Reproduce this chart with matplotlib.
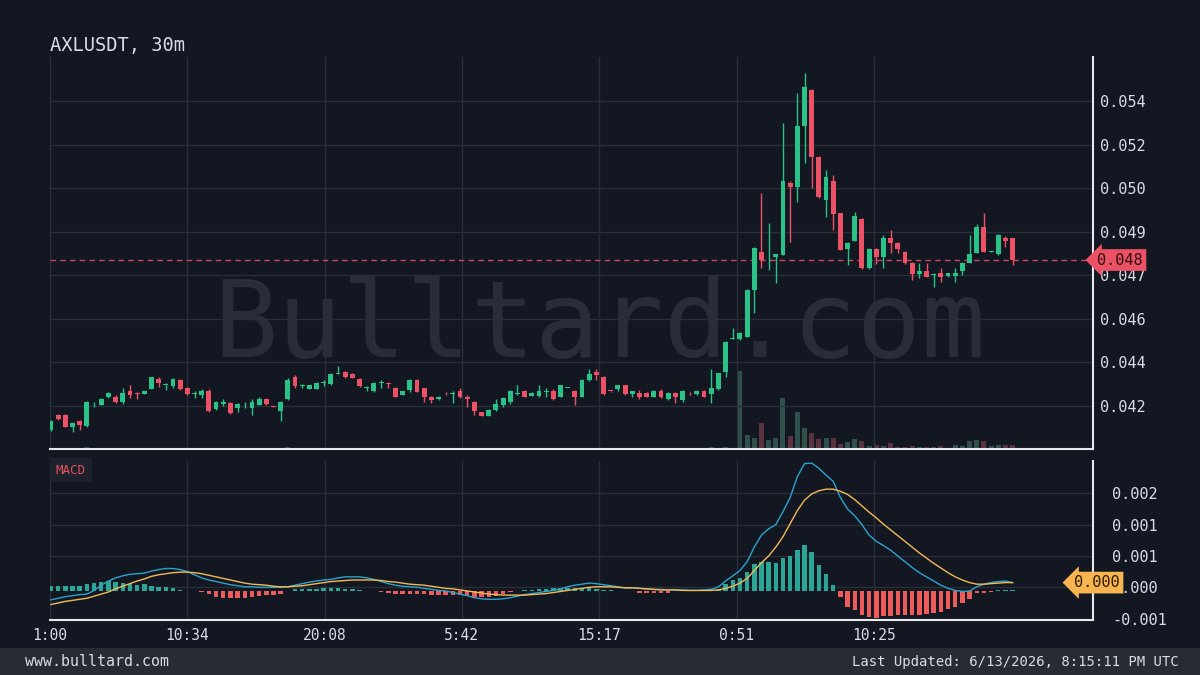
import numpy as np
import matplotlib
matplotlib.use('Agg')
import matplotlib.pyplot as plt
import matplotlib.transforms as mtransforms
from matplotlib.patches import Rectangle

plt.rcParams['font.family'] = 'DejaVu Sans Mono'

# 30m candles, AXLUSDT
opens = [
    0.04152, 0.04206, 0.04206, 0.04164, 0.04185, 0.04165, 0.04246, 0.04245, 0.04274, 0.04274,
    0.04253, 0.04295, 0.04287, 0.04284, 0.04302, 0.04338, 0.04316, 0.04313, 0.04335, 0.04305,
    0.04284, 0.04280, 0.04295, 0.04230, 0.04246, 0.04252, 0.04231, 0.04246, 0.04231, 0.04244,
    0.04266, 0.04238, 0.04223, 0.04264, 0.04345, 0.04313, 0.04304, 0.04304, 0.04324, 0.04320,
    0.04358, 0.04366, 0.04358, 0.04338, 0.04305, 0.04295, 0.04323, 0.04326, 0.04306, 0.04282,
    0.04299, 0.04335, 0.04305, 0.04274, 0.04264, 0.04287, 0.04284, 0.04295, 0.04274, 0.04255,
    0.04217, 0.04205, 0.04225, 0.04244, 0.04253, 0.04285, 0.04295, 0.04277, 0.04277, 0.04292,
    0.04295, 0.04274, 0.04306, 0.04295, 0.04274, 0.04337, 0.04364, 0.04345, 0.04295, 0.04304,
    0.04316, 0.04283, 0.04289, 0.04289, 0.04274, 0.04295, 0.04264, 0.04287, 0.04262, 0.04287,
    0.04283, 0.04295, 0.04283, 0.04304, 0.04366, 0.04487, 0.04485, 0.04494, 0.04666, 0.04807,
    0.04778, 0.04786, 0.04794, 0.05060, 0.05045, 0.05268, 0.05400, 0.05155, 0.04996, 0.05067,
    0.04948, 0.04815, 0.04847, 0.04928, 0.04746, 0.04818, 0.04786, 0.04858, 0.04840, 0.04807,
    0.04766, 0.04725, 0.04736, 0.04720, 0.04727, 0.04717, 0.04717, 0.04736, 0.04766, 0.04803,
    0.04898, 0.04806, 0.04797, 0.04858, 0.04858]
highs = [
    0.04189, 0.04209, 0.04209, 0.04182, 0.04189, 0.04257, 0.04256, 0.04269, 0.04293, 0.04280,
    0.04305, 0.04317, 0.04293, 0.04296, 0.04348, 0.04348, 0.04323, 0.04342, 0.04338, 0.04311,
    0.04296, 0.04301, 0.04301, 0.04260, 0.04264, 0.04255, 0.04250, 0.04256, 0.04264, 0.04272,
    0.04268, 0.04240, 0.04260, 0.04342, 0.04354, 0.04321, 0.04317, 0.04328, 0.04335, 0.04360,
    0.04387, 0.04368, 0.04360, 0.04342, 0.04313, 0.04329, 0.04335, 0.04329, 0.04309, 0.04296,
    0.04338, 0.04338, 0.04307, 0.04277, 0.04277, 0.04291, 0.04296, 0.04305, 0.04280, 0.04257,
    0.04219, 0.04228, 0.04264, 0.04272, 0.04299, 0.04317, 0.04299, 0.04290, 0.04317, 0.04305,
    0.04301, 0.04318, 0.04307, 0.04299, 0.04339, 0.04375, 0.04375, 0.04351, 0.04296, 0.04318,
    0.04318, 0.04296, 0.04299, 0.04293, 0.04299, 0.04301, 0.04290, 0.04290, 0.04299, 0.04291,
    0.04299, 0.04299, 0.04375, 0.04362, 0.04480, 0.04525, 0.04510, 0.04668, 0.04825, 0.05021,
    0.04911, 0.04798, 0.05278, 0.05067, 0.05388, 0.05462, 0.05405, 0.05159, 0.05107, 0.05088,
    0.04950, 0.04843, 0.04953, 0.04930, 0.04820, 0.04820, 0.04868, 0.04886, 0.04843, 0.04810,
    0.04768, 0.04764, 0.04764, 0.04727, 0.04746, 0.04730, 0.04746, 0.04770, 0.04868, 0.04908,
    0.04948, 0.04810, 0.04870, 0.04864, 0.04858]
lows = [
    0.04148, 0.04189, 0.04162, 0.04146, 0.04152, 0.04164, 0.04238, 0.04242, 0.04268, 0.04250,
    0.04246, 0.04268, 0.04264, 0.04283, 0.04301, 0.04309, 0.04299, 0.04307, 0.04299, 0.04280,
    0.04268, 0.04268, 0.04219, 0.04225, 0.04241, 0.04209, 0.04219, 0.04231, 0.04207, 0.04242,
    0.04244, 0.04235, 0.04185, 0.04262, 0.04305, 0.04305, 0.04302, 0.04301, 0.04313, 0.04317,
    0.04356, 0.04343, 0.04343, 0.04311, 0.04296, 0.04293, 0.04305, 0.04305, 0.04272, 0.04280,
    0.04293, 0.04290, 0.04255, 0.04252, 0.04262, 0.04282, 0.04252, 0.04268, 0.04238, 0.04207,
    0.04202, 0.04203, 0.04223, 0.04238, 0.04247, 0.04282, 0.04272, 0.04275, 0.04274, 0.04274,
    0.04262, 0.04272, 0.04305, 0.04244, 0.04272, 0.04333, 0.04335, 0.04280, 0.04293, 0.04295,
    0.04280, 0.04274, 0.04265, 0.04272, 0.04272, 0.04268, 0.04262, 0.04252, 0.04255, 0.04282,
    0.04282, 0.04272, 0.04252, 0.04300, 0.04348, 0.04485, 0.04483, 0.04494, 0.04580, 0.04746,
    0.04739, 0.04690, 0.04794, 0.04843, 0.04990, 0.05131, 0.05039, 0.05002, 0.04935, 0.04886,
    0.04811, 0.04758, 0.04845, 0.04743, 0.04743, 0.04761, 0.04746, 0.04801, 0.04801, 0.04762,
    0.04703, 0.04709, 0.04715, 0.04678, 0.04696, 0.04715, 0.04696, 0.04721, 0.04764, 0.04800,
    0.04804, 0.04804, 0.04795, 0.04825, 0.04758]
closes = [
    0.04185, 0.04191, 0.04164, 0.04176, 0.04170, 0.04255, 0.04247, 0.04267, 0.04287, 0.04253,
    0.04287, 0.04280, 0.04285, 0.04295, 0.04345, 0.04323, 0.04321, 0.04338, 0.04302, 0.04283,
    0.04288, 0.04295, 0.04223, 0.04253, 0.04256, 0.04213, 0.04247, 0.04248, 0.04256, 0.04266,
    0.04246, 0.04237, 0.04255, 0.04335, 0.04315, 0.04315, 0.04316, 0.04326, 0.04327, 0.04356,
    0.04361, 0.04345, 0.04344, 0.04315, 0.04307, 0.04326, 0.04327, 0.04321, 0.04274, 0.04295,
    0.04335, 0.04293, 0.04274, 0.04262, 0.04274, 0.04286, 0.04288, 0.04274, 0.04264, 0.04223,
    0.04205, 0.04225, 0.04247, 0.04269, 0.04295, 0.04288, 0.04274, 0.04289, 0.04295, 0.04293,
    0.04264, 0.04316, 0.04306, 0.04274, 0.04337, 0.04358, 0.04354, 0.04283, 0.04294, 0.04316,
    0.04283, 0.04295, 0.04274, 0.04274, 0.04295, 0.04274, 0.04287, 0.04274, 0.04295, 0.04286,
    0.04295, 0.04274, 0.04305, 0.04360, 0.04476, 0.04489, 0.04507, 0.04666, 0.04819, 0.04776,
    0.04780, 0.04798, 0.05067, 0.05045, 0.05269, 0.05410, 0.05155, 0.05006, 0.05080, 0.04945,
    0.04813, 0.04840, 0.04939, 0.04746, 0.04818, 0.04786, 0.04858, 0.04837, 0.04815, 0.04764,
    0.04725, 0.04736, 0.04715, 0.04722, 0.04715, 0.04727, 0.04727, 0.04766, 0.04797, 0.04898,
    0.04804, 0.04808, 0.04867, 0.04847, 0.04776]
volume = [
    12, 8, 10, 9, 7, 20, 6, 9, 8, 7,
    10, 9, 6, 5, 14, 8, 5, 9, 8, 7,
    5, 6, 15, 8, 6, 10, 7, 5, 9, 8,
    7, 4, 12, 18, 10, 6, 5, 7, 5, 9,
    8, 7, 6, 8, 5, 8, 5, 6, 9, 5,
    9, 8, 8, 6, 5, 4, 7, 7, 6, 10,
    7, 8, 9, 11, 12, 7, 6, 5, 7, 5,
    7, 8, 4, 7, 12, 12, 10, 14, 4, 7,
    9, 5, 6, 5, 5, 6, 5, 7, 8, 4,
    5, 6, 17, 10, 23, 10, 780, 140, 113, 257,
    90, 107, 507, 130, 367, 207, 163, 100, 113, 107,
    50, 67, 100, 80, 30, 40, 30, 57, 20, 20,
    30, 20, 20, 20, 33, 15, 37, 30, 77, 90,
    80, 30, 40, 37, 37]

# MACD panel
macd = [
    -0.00016, -0.00013, -0.00010, -0.00008, -0.00006, -0.00005, 0.00002, 0.00012, 0.00020, 0.00026,
    0.00030, 0.00033, 0.00034, 0.00035, 0.00039, 0.00042, 0.00044, 0.00044, 0.00042, 0.00038,
    0.00032, 0.00026, 0.00022, 0.00019, 0.00016, 0.00013, 0.00011, 0.00009, 0.00009, 0.00008,
    0.00008, 0.00008, 0.00008, 0.00009, 0.00012, 0.00015, 0.00018, 0.00020, 0.00022, 0.00023,
    0.00026, 0.00028, 0.00028, 0.00028, 0.00026, 0.00023, 0.00019, 0.00015, 0.00012, 0.00010,
    0.00009, 0.00008, 0.00006, 0.00004, 0.00002, 0.00001, -0.00002, -0.00005, -0.00008, -0.00012,
    -0.00014, -0.00015, -0.00015, -0.00014, -0.00012, -0.00009, -0.00006, -0.00004, -0.00002, 0.00000,
    0.00002, 0.00005, 0.00009, 0.00012, 0.00014, 0.00016, 0.00015, 0.00013, 0.00011, 0.00009,
    0.00007, 0.00007, 0.00006, 0.00005, 0.00004, 0.00004, 0.00003, 0.00003, 0.00003, 0.00002,
    0.00002, 0.00003, 0.00004, 0.00009, 0.00020, 0.00030, 0.00040, 0.00057, 0.00085, 0.00108,
    0.00120, 0.00128, 0.00153, 0.00180, 0.00220, 0.00245, 0.00246, 0.00236, 0.00223, 0.00211,
    0.00180, 0.00158, 0.00145, 0.00128, 0.00108, 0.00096, 0.00088, 0.00079, 0.00068, 0.00057,
    0.00046, 0.00036, 0.00028, 0.00020, 0.00012, 0.00006, 0.00002, 0.00000, 0.00001, 0.00009,
    0.00014, 0.00017, 0.00019, 0.00020, 0.00017]
signal = [
    -0.00025, -0.00022, -0.00019, -0.00017, -0.00015, -0.00013, -0.00009, -0.00005, -0.00001, 0.00005,
    0.00010, 0.00015, 0.00020, 0.00024, 0.00029, 0.00032, 0.00034, 0.00036, 0.00037, 0.00037,
    0.00036, 0.00034, 0.00031, 0.00028, 0.00025, 0.00022, 0.00019, 0.00016, 0.00014, 0.00013,
    0.00012, 0.00010, 0.00009, 0.00009, 0.00010, 0.00011, 0.00013, 0.00015, 0.00017, 0.00019,
    0.00020, 0.00021, 0.00022, 0.00022, 0.00022, 0.00022, 0.00021, 0.00019, 0.00018, 0.00016,
    0.00014, 0.00013, 0.00012, 0.00010, 0.00008, 0.00006, 0.00005, 0.00003, 0.00001, -0.00001,
    -0.00003, -0.00005, -0.00006, -0.00007, -0.00007, -0.00007, -0.00007, -0.00006, -0.00005, -0.00004,
    -0.00002, 0.00000, 0.00002, 0.00004, 0.00006, 0.00008, 0.00009, 0.00009, 0.00009, 0.00008,
    0.00007, 0.00007, 0.00006, 0.00005, 0.00004, 0.00003, 0.00003, 0.00003, 0.00002, 0.00002,
    0.00002, 0.00002, 0.00002, 0.00003, 0.00006, 0.00010, 0.00016, 0.00025, 0.00040, 0.00055,
    0.00068, 0.00085, 0.00105, 0.00130, 0.00155, 0.00175, 0.00187, 0.00193, 0.00196, 0.00196,
    0.00192, 0.00186, 0.00176, 0.00164, 0.00152, 0.00141, 0.00129, 0.00118, 0.00107, 0.00096,
    0.00085, 0.00074, 0.00064, 0.00054, 0.00045, 0.00036, 0.00028, 0.00022, 0.00017, 0.00014,
    0.00014, 0.00015, 0.00016, 0.00017, 0.00017]
hist = [
    0.00010, 0.00010, 0.00010, 0.00010, 0.00011, 0.00014, 0.00017, 0.00019, 0.00020, 0.00018,
    0.00016, 0.00014, 0.00013, 0.00014, 0.00011, 0.00009, 0.00008, 0.00006, 0.00003, 0.00001,
    0.00000, -0.00001, -0.00005, -0.00010, -0.00012, -0.00013, -0.00013, -0.00012, -0.00010, -0.00008,
    -0.00007, -0.00007, -0.00005, 0.00000, 0.00004, 0.00004, 0.00005, 0.00005, 0.00006, 0.00006,
    0.00006, 0.00005, 0.00005, 0.00003, 0.00001, 0.00000, -0.00001, -0.00002, -0.00004, -0.00005,
    -0.00004, -0.00005, -0.00005, -0.00007, -0.00007, -0.00007, -0.00007, -0.00007, -0.00008, -0.00010,
    -0.00010, -0.00010, -0.00008, -0.00005, -0.00001, 0.00000, 0.00003, 0.00003, 0.00004, 0.00004,
    0.00006, 0.00006, 0.00007, 0.00006, 0.00006, 0.00006, 0.00005, 0.00003, 0.00002, 0.00001,
    0.00000, 0.00000, -0.00002, -0.00002, -0.00002, -0.00002, -0.00002, 0.00000, 0.00000, 0.00000,
    0.00000, 0.00000, 0.00001, 0.00005, 0.00015, 0.00022, 0.00026, 0.00037, 0.00053, 0.00056,
    0.00056, 0.00054, 0.00064, 0.00068, 0.00080, 0.00090, 0.00076, 0.00050, 0.00034, 0.00012,
    -0.00010, -0.00029, -0.00035, -0.00045, -0.00048, -0.00050, -0.00047, -0.00047, -0.00046, -0.00046,
    -0.00046, -0.00045, -0.00043, -0.00042, -0.00039, -0.00034, -0.00029, -0.00023, -0.00015, -0.00003,
    -0.00002, -0.00001, 0.00002, 0.00002, 0.00002]

price_ticks = [0.0424, 0.0440, 0.0456, 0.0472, 0.0488, 0.0504, 0.0520, 0.0536]
price_labels = ['0.042', '0.044', '0.046', '0.047', '0.049', '0.050', '0.052', '0.054']
macd_ticks = [-0.00052, 0.00008, 0.00068, 0.00128, 0.00188]
macd_labels = ['-0.001', '0.000', '0.001', '0.001', '0.002']
time_labels = ['1:00', '10:34', '20:08', '5:42', '15:17', '0:51', '10:25']
tick_step = 574 / 30  # 9h34m in 30m candles

BG = '#131722'
GRID = '#2a2e39'
TXT = '#d9dce3'
AXIS = '#e6e8ee'
GREEN = '#2bc287'
RED = '#ec5166'
VOL_UP = '#30504c'
VOL_DN = '#5a3240'
H_UP = '#2aa596'
H_DN = '#ef5a5a'
BLUE = '#2ba3cc'
ORANGE = '#f3b955'

o = np.array(opens)
h = np.array(highs)
l = np.array(lows)
c = np.array(closes)
x = np.arange(len(c))
up = c >= o
xlim = (-0.14, 145.2)
tick_pos = [-0.14 + tick_step * i for i in range(len(time_labels))]

fig = plt.figure(figsize=(12, 6.75), dpi=100, facecolor=BG)
rect_p = [50 / 1200, 226 / 675, 1043 / 1200, 392 / 675]
rect_m = [50 / 1200, 55.5 / 675, 1043 / 1200, 158.5 / 675]

# volume behind the candles
ax_v = fig.add_axes(rect_p)
ax_v.set_facecolor(BG)
ax_v.bar(x, volume, width=0.7, color=np.where(up, VOL_UP, VOL_DN), zorder=2)
ax_v.set_ylim(0, max(volume) * 392 / 78)
ax_v.set_xlim(*xlim)
ax_v.set_xticks([])
ax_v.set_yticks([])
for s in ax_v.spines.values():
    s.set_visible(False)
ax_v.text(0.5, 0.515, 'Bulltard.com', transform=fig.transFigure, ha='center', va='center',
          fontsize=77, color='#292d37', zorder=1)

ax = fig.add_axes(rect_p)
ax.set_zorder(1)
ax.set_facecolor('none')
cols = np.where(up, GREEN, RED)
ax.vlines(x, l, h, colors=cols, linewidth=1.0, zorder=3)
ax.bar(x, np.maximum(np.abs(c - o), 3e-5), bottom=np.minimum(o, c), width=0.68,
       color=cols, zorder=4)
ax.axhline(c[-1], color=RED, lw=1, ls=(0, (4, 3)), alpha=0.85, zorder=2)
ax.set_xlim(*xlim)
ax.set_ylim(0.040821, 0.055215)
ax.yaxis.tick_right()
ax.set_yticks(price_ticks)
ax.set_yticklabels(price_labels)
ax.set_xticks(tick_pos)
ax.tick_params(axis='y', length=0, pad=5, labelsize=11, colors=TXT)
ax.tick_params(axis='x', length=0, labelbottom=False)
ax.grid(True, color=GRID, lw=1)
ax.set_axisbelow(True)
for side in ['top', 'left']:
    ax.spines[side].set_visible(False)
for side in ['right', 'bottom']:
    ax.spines[side].set_color(AXIS)
    ax.spines[side].set_linewidth(1.5)
tr = mtransforms.blended_transform_factory(ax.transAxes, ax.transData)
ax.text(1.026, c[-1], f'{c[-1]:.3f}', transform=tr, ha='center', va='center', fontsize=11,
        color='#2a0b12', zorder=6, clip_on=False,
        bbox=dict(boxstyle='larrow,pad=0.22', fc=RED, ec='none'))

# MACD pane
axm = fig.add_axes(rect_m, facecolor=BG)
axm.bar(x, hist, width=0.62, color=np.where(np.array(hist) >= 0, H_UP, H_DN), zorder=2)
axm.plot(x, macd, color=BLUE, lw=1.0, zorder=3)
axm.plot(x, signal, color=ORANGE, lw=1.0, zorder=3)
axm.set_xlim(*xlim)
axm.set_ylim(-0.000537, 0.0025)
axm.yaxis.tick_right()
axm.set_yticks(macd_ticks)
axm.set_yticklabels(macd_labels)
axm.set_xticks(tick_pos)
axm.set_xticklabels(time_labels)
axm.tick_params(axis='y', length=0, pad=14, labelsize=11, colors=TXT)
axm.tick_params(axis='x', length=0, pad=6, labelsize=10.5, colors=TXT)
axm.grid(True, color=GRID, lw=1)
axm.set_axisbelow(True)
for side in ['top', 'left']:
    axm.spines[side].set_visible(False)
for side in ['right', 'bottom']:
    axm.spines[side].set_color(AXIS)
    axm.spines[side].set_linewidth(1.5)
trm = mtransforms.blended_transform_factory(axm.transAxes, axm.transData)
axm.text(1.004, signal[-1], f'{abs(signal[-1]):.3f}', transform=trm, ha='center', va='center',
         fontsize=11, color='#2b1a05', zorder=6, clip_on=False,
         bbox=dict(boxstyle='larrow,pad=0.22', fc='#f8b44e', ec='none'))

# titles and footer
fig.text(50 / 1200, 1 - 45 / 675, 'AXLUSDT, 30m', fontsize=13.5, color=TXT, va='center')
fig.text(56 / 1200, 1 - 470 / 675, 'MACD', fontsize=9, color='#e0525c', va='center',
         bbox=dict(boxstyle='square,pad=0.45', fc='#1d212b', ec='none'))
fig.add_artist(Rectangle((0, 0), 1, 27 / 675, transform=fig.transFigure, fc='#282b34',
                         ec='none', zorder=0))
fig.text(25 / 1200, 13 / 675, 'www.bulltard.com', fontsize=10.8, color=TXT, va='center')
fig.text(1179 / 1200, 13 / 675, 'Last Updated: 6/13/2026, 8:15:11 PM UTC', fontsize=10,
         color=TXT, va='center', ha='right')

fig.savefig('out.png', dpi=100, facecolor=BG)
